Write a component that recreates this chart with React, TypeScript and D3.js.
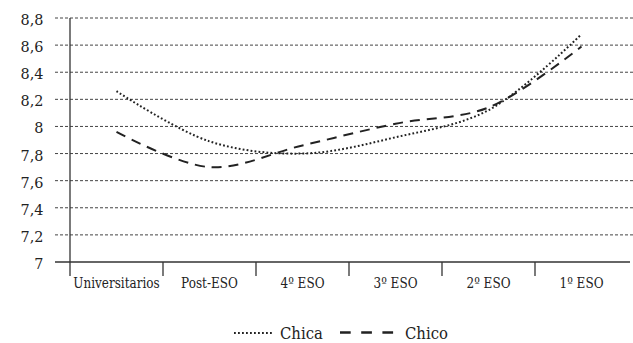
import React from "react";
import * as d3 from "d3";

const categories = ["Universitarios", "Post-ESO", "4º ESO", "3º ESO", "2º ESO", "1º ESO"];
const chica = [8.26, 7.89, 7.8, 7.92, 8.12, 8.68];
const chico = [7.96, 7.7, 7.86, 8.02, 8.14, 8.59];
const yTicks = [7, 7.2, 7.4, 7.6, 7.8, 8, 8.2, 8.4, 8.6, 8.8];

const W = 633;
const H = 343;
const left = 70;
const right = 628;
const top = 18;
const bottom = 262;
const serif = "DejaVu Serif";
const ink = "#222";

// Serif text squeezed horizontally to a narrower, Times-like proportion.
function Label({
  x,
  y,
  size,
  sx,
  anchor,
  children,
}: {
  x: number;
  y: number;
  size: number;
  sx: number;
  anchor: "start" | "middle" | "end";
  children: React.ReactNode;
}) {
  return (
    <g transform={`translate(${x},${y}) scale(${sx},1)`}>
      <text x={0} y={0} textAnchor={anchor} fontSize={size} fill={ink} style={{ fontFamily: serif }}>
        {children}
      </text>
    </g>
  );
}

export default function App() {
  const x = d3.scaleBand<string>().domain(categories).range([left, right]).padding(0);
  const y = d3.scaleLinear().domain([7, 8.8]).range([bottom, top]);
  const cx = (c: string) => (x(c) as number) + x.bandwidth() / 2;

  const line = d3
    .line<number>()
    .x((_, i) => cx(categories[i]))
    .y((v) => y(v))
    .curve(d3.curveCatmullRom.alpha(0.5));

  const fmt = (v: number) => (Number.isInteger(v) ? String(v) : v.toFixed(1).replace(".", ","));

  return (
    <svg width={W} height={H} style={{ position: "absolute", left: 0, top: 0, background: "#fff" }}>
      {/* horizontal gridlines */}
      {yTicks.filter((t) => t > 7).map((t) => (
        <line key={t} x1={55} x2={W} y1={y(t)} y2={y(t)} stroke="#444" strokeWidth={1} strokeDasharray="3,2" />
      ))}
      {/* y tick labels */}
      {yTicks.map((t) => (
        <Label key={t} x={43.5} y={y(t) + 7} size={15} sx={0.96} anchor="end">
          {fmt(t)}
        </Label>
      ))}
      {/* axes and category dividers */}
      <line x1={55} x2={right + 2} y1={bottom} y2={bottom} stroke="#333" strokeWidth={1.3} />
      <line x1={left} x2={left} y1={top} y2={bottom + 14} stroke="#333" strokeWidth={1.3} />
      {categories.slice(1).map((c) => (
        <line key={c} x1={x(c) as number} x2={x(c) as number} y1={bottom} y2={bottom + 14} stroke="#333" strokeWidth={1.3} />
      ))}
      {categories.map((c) => (
        <Label key={c} x={cx(c)} y={288.3} size={14.5} sx={0.83} anchor="middle">
          {c}
        </Label>
      ))}
      {/* series */}
      <path d={line(chica) || ""} fill="none" stroke={ink} strokeWidth={2} strokeDasharray="1.8,2.2" />
      <path d={line(chico) || ""} fill="none" stroke={ink} strokeWidth={2} strokeDasharray="10,7" />
      {/* legend */}
      <line x1={234} x2={273} y1={333} y2={333} stroke={ink} strokeWidth={2} strokeDasharray="1.8,2.2" />
      <Label x={280} y={338.5} size={16.5} sx={0.9} anchor="start">Chica</Label>
      <line x1={340} x2={394} y1={332.5} y2={332.5} stroke={ink} strokeWidth={2.5} strokeDasharray="10.7,10.5" />
      <Label x={405} y={338.5} size={16.5} sx={0.9} anchor="start">Chico</Label>
    </svg>
  );
}
